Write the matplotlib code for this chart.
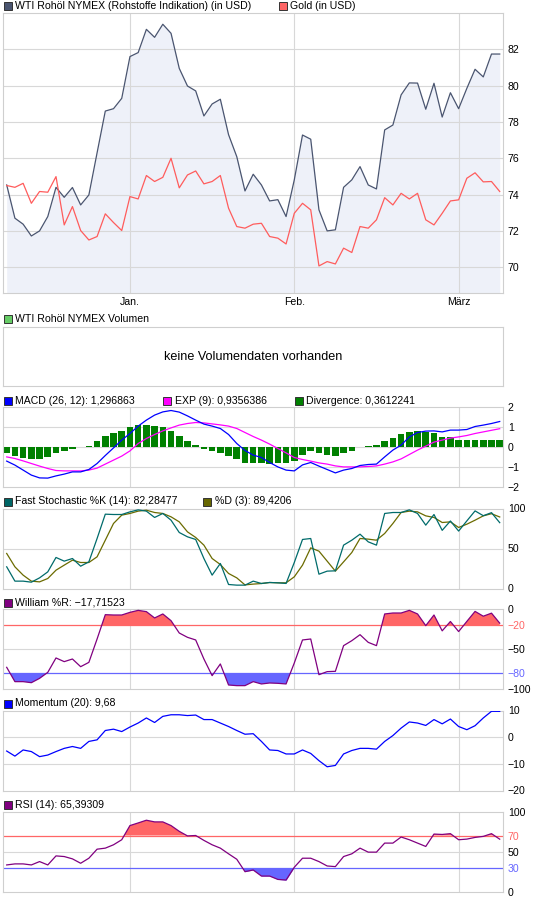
import numpy as np
import matplotlib
matplotlib.use('Agg')
import matplotlib.pyplot as plt
from matplotlib.patches import Rectangle

W, H = 545, 900
plt.rcParams['font.family'] = ['Liberation Sans', 'DejaVu Sans']
FS = 7.6

# trading days, index 0 .. 60
month_pos = [15, 35, 55]
month_labels = ['Jan.', 'Feb.', 'März']

wti = [74.53, 72.70, 72.37, 71.72, 72.00, 72.79, 74.40, 73.85, 74.39, 73.43,
       73.98, 76.30, 78.60, 78.73, 79.30, 81.60, 81.82, 83.10, 82.66, 83.38,
       82.88, 80.95, 79.98, 79.71, 78.33, 78.99, 79.25, 77.30, 76.09, 74.20,
       75.12, 74.53, 73.65, 73.72, 72.79, 74.81, 77.28, 77.05, 73.16, 72.00,
       72.06, 74.40, 74.81, 75.54, 74.53, 74.31, 77.56, 77.83, 79.49, 80.15,
       80.14, 78.70, 80.13, 78.27, 79.61, 78.73, 79.85, 80.90, 80.48, 81.74,
       81.74]
gold = [74.50, 74.40, 74.62, 73.52, 74.17, 74.13, 74.99, 72.33, 73.34, 72.02,
        71.50, 71.69, 72.94, 72.46, 72.02, 73.89, 73.76, 75.05, 74.72, 74.95,
        76.00, 74.37, 75.08, 75.30, 74.59, 74.72, 75.05, 73.25, 72.24, 72.15,
        72.37, 72.42, 71.69, 71.60, 71.28, 72.97, 73.52, 73.16, 70.07, 70.31,
        70.18, 71.05, 70.81, 72.24, 72.15, 72.61, 73.83, 73.43, 74.07, 73.76,
        74.07, 72.61, 72.33, 72.97, 73.65, 73.71, 74.90, 75.20, 74.70, 74.72,
        74.17]

macd = [-0.68, -0.88, -1.13, -1.38, -1.52, -1.53, -1.42, -1.33, -1.22, -1.22,
        -1.10, -0.80, -0.40, -0.02, 0.37, 0.70, 1.07, 1.37, 1.62, 1.78,
        1.85, 1.77, 1.58, 1.37, 1.17, 1.07, 0.95, 0.65, 0.20, -0.15,
        -0.38, -0.50, -0.75, -0.97, -1.13, -1.17, -0.87, -0.75, -0.93, -1.10,
        -1.27, -1.13, -1.05, -0.90, -0.85, -0.83, -0.47, -0.13, 0.12, 0.53,
        0.75, 0.82, 0.83, 0.78, 0.87, 0.87, 0.90, 1.05, 1.12, 1.20,
        1.30]
exp9 = [-0.47, -0.55, -0.67, -0.80, -0.93, -1.05, -1.15, -1.17, -1.17, -1.17,
        -1.13, -1.03, -0.83, -0.63, -0.43, -0.17, 0.20, 0.45, 0.65, 0.83,
        0.98, 1.12, 1.20, 1.25, 1.23, 1.18, 1.13, 1.07, 0.95, 0.75,
        0.55, 0.37, 0.17, -0.05, -0.27, -0.50, -0.60, -0.68, -0.77, -0.83,
        -0.92, -0.97, -0.97, -0.97, -0.95, -0.92, -0.83, -0.72, -0.57, -0.35,
        -0.13, 0.07, 0.27, 0.37, 0.47, 0.53, 0.60, 0.70, 0.78, 0.86,
        0.94]
divergence = [-0.26, -0.42, -0.55, -0.58, -0.57, -0.46, -0.26, -0.16, -0.08, 0.0,
              0.09, 0.33, 0.58, 0.73, 0.83, 1.00, 1.11, 1.13, 1.08, 1.01,
              0.80, 0.55, 0.33, 0.13, -0.07, -0.20, -0.26, -0.41, -0.57, -0.77,
              -0.80, -0.80, -0.85, -0.80, -0.80, -0.66, -0.37, -0.18, -0.28, -0.38,
              -0.41, -0.26, -0.16, 0.0, 0.08, 0.13, 0.33, 0.47, 0.68, 0.79,
              0.83, 0.75, 0.73, 0.53, 0.52, 0.38, 0.38, 0.38, 0.38, 0.38,
              0.36]

fast_k = [27.1, 9.2, 9.2, 7.9, 13.3, 20.8, 38.8, 34.2, 37.5, 27.9,
          33.3, 62.5, 92.9, 92.5, 92.5, 95.8, 98.3, 96.7, 88.8, 93.8,
          85.4, 70.0, 64.6, 61.3, 37.5, 16.7, 31.3, 5.0, 4.2, 4.2,
          9.2, 6.3, 7.5, 7.1, 6.3, 32.5, 61.3, 62.5, 17.9, 21.7,
          22.1, 54.2, 60.4, 67.9, 58.3, 54.2, 93.8, 95.0, 95.0, 98.3,
          93.8, 79.2, 92.5, 72.7, 84.4, 71.8, 84.5, 97.0, 91.0, 94.8,
          82.3]
slow_d = [43.8, 27.1, 16.7, 9.2, 8.3, 12.5, 22.9, 29.2, 35.4, 32.5,
          32.5, 39.6, 60.4, 81.3, 91.7, 93.8, 96.7, 97.9, 95.0, 93.8,
          89.6, 83.3, 70.8, 63.8, 54.2, 37.5, 30.0, 18.8, 13.3, 4.5,
          5.5, 6.2, 7.5, 7.1, 7.1, 14.6, 29.2, 50.8, 46.7, 34.2,
          21.7, 33.3, 45.0, 62.5, 61.7, 60.4, 68.8, 81.3, 95.0, 96.7,
          95.8, 90.8, 88.8, 82.5, 83.3, 76.3, 80.4, 85.4, 90.8, 93.5,
          89.4]
williams = [-72.9, -90.8, -90.8, -92.1, -86.7, -79.2, -61.2, -65.8, -62.5, -72.1,
            -66.7, -37.5, -7.1, -7.5, -7.5, -4.2, -1.7, -3.3, -11.2, -6.2,
            -14.6, -30.0, -35.4, -38.7, -62.5, -83.3, -68.7, -95.0, -95.8, -95.8,
            -90.8, -93.7, -92.5, -92.9, -93.7, -67.5, -38.7, -37.5, -82.1, -78.3,
            -77.9, -45.8, -39.6, -32.1, -41.7, -45.8, -6.2, -5.0, -5.0, -1.7,
            -6.2, -20.8, -7.5, -27.3, -15.6, -28.2, -15.5, -3.0, -9.0, -5.2,
            -17.7]

momentum = [-5.2, -7.1, -4.8, -5.4, -7.3, -6.7, -5.4, -4.2, -3.5, -4.2,
            -1.6, -1.0, 2.5, 3.0, 2.1, 3.8, 5.3, 7.2, 5.5, 7.8,
            8.4, 8.4, 8.1, 8.3, 6.6, 6.6, 5.3, 4.0, 2.5, 1.1,
            1.3, -1.6, -4.8, -5.0, -6.3, -6.3, -4.8, -6.1, -8.8, -11.1,
            -10.6, -6.3, -5.0, -4.2, -4.2, -4.5, -1.6, 0.6, 3.4, 5.7,
            5.3, 4.4, 6.6, 5.0, 6.8, 4.0, 2.8, 4.3, 7.2, 9.7,
            9.68]
rsi = [33.2, 34.5, 34.5, 33.2, 37.4, 33.2, 44.5, 43.7, 40.8, 35.3,
       41.6, 52.9, 54.2, 58.4, 64.7, 82.4, 85.7, 89.1, 87.0, 87.0,
       82.4, 75.2, 69.5, 70.0, 63.9, 58.4, 54.2, 47.1, 40.3, 24.8,
       26.9, 19.3, 19.3, 15.1, 14.3, 30.3, 41.6, 41.6, 37.4, 31.9,
       31.1, 43.7, 47.1, 54.2, 49.2, 49.2, 60.5, 60.5, 68.1, 64.7,
       60.5, 56.3, 71.8, 71.3, 72.3, 64.7, 65.5, 67.6, 68.9, 72.3,
       65.4]

x = np.arange(len(wti))
GRID = '#d8d8d8'
RED = '#ff6666'
BLUE = '#6666ff'

fig = plt.figure(figsize=(W / 100, H / 100), dpi=100)


def panel(top, bottom):
    ax = fig.add_axes([3 / W, 1 - bottom / H, 500 / W, (bottom - top) / H])
    ax.set_xlim(-0.45, 60.4)
    for s in ax.spines.values():
        s.set_color('#cfcfcf')
        s.set_linewidth(0.8)
    ax.yaxis.tick_right()
    ax.tick_params(length=0, pad=3.5, labelsize=FS)
    ax.set_xticks([])
    return ax


def grid(ax, ys):
    for y in ys:
        ax.axhline(y, color=GRID, lw=0.8, zorder=1)
    for t in month_pos:
        ax.axvline(t, color=GRID, lw=0.8, zorder=1)


def legend(px, py, color, label):
    fig.add_artist(Rectangle((px / W, 1 - (py + 4) / H), 8 / W, 8 / H,
                             transform=fig.transFigure, facecolor=color,
                             edgecolor='#333333', lw=0.7))
    fig.text((px + 11.5) / W, 1 - py / H, label, va='center', ha='left', fontsize=FS)


def yticks(ax, vals, labels, colors=None):
    ax.set_yticks(vals)
    ax.set_yticklabels(labels)
    if colors:
        for lab, c in zip(ax.get_yticklabels(), colors):
            lab.set_color(c)


# price panel
ax = panel(13, 293)
ax.set_ylim(68.58, 84.0)
grid(ax, [70, 72, 74, 76, 78, 80, 82])
ax.fill_between(x, wti, 68.58, color='#eef1f9', lw=0, zorder=0.5)
ax.plot(x, wti, color='#4a5570', lw=0.9, zorder=3)
ax.plot(x, gold, color='#ff5c5c', lw=0.9, zorder=3)
yticks(ax, [70, 72, 74, 76, 78, 80, 82], ['70', '72', '74', '76', '78', '80', '82'])
ax.set_xticks(month_pos)
ax.set_xticklabels(month_labels)
ax.tick_params(axis='x', length=0, pad=3, labelsize=FS)
legend(3.5, 6, '#4a5570', 'WTI Rohöl NYMEX (Rohstoffe Indikation) (in USD)')
legend(279, 6, RED, 'Gold (in USD)')

# volume panel
ax = panel(327, 386)
ax.set_yticks([])
ax.text(0.5, 0.5, 'keine Volumendaten vorhanden', transform=ax.transAxes,
        ha='center', va='center', fontsize=9.1)
legend(3.5, 319, '#66cc66', 'WTI Rohöl NYMEX Volumen')

# MACD
ax = panel(407.5, 487.5)
ax.set_ylim(-2, 2)
grid(ax, [-1, 0, 1])
ax.bar(x, divergence, width=0.8, color='#008000', zorder=2)
ax.plot(x, exp9, color='#ff00ff', lw=0.9, zorder=3)
ax.plot(x, macd, color='#0000ff', lw=0.9, zorder=3)
yticks(ax, [2, 1, 0, -1, -2], ['2', '1', '0', '−1', '−2'])
legend(3.5, 400.5, '#0000ff', 'MACD (26, 12): 1,296863')
legend(163.4, 400.5, '#ff00ff', 'EXP (9): 0,9356386')
legend(294.7, 400.5, '#008000', 'Divergence: 0,3612241')

# Fast stochastic
ax = panel(508.5, 588.5)
ax.set_ylim(0, 100)
grid(ax, [50])
ax.plot(x, slow_d, color='#6b6b00', lw=0.9, zorder=3)
ax.plot(x, fast_k, color='#006b6b', lw=0.9, zorder=3)
yticks(ax, [0, 50, 100], ['0', '50', '100'])
legend(3.5, 501.5, '#006666', 'Fast Stochastic %K (14): 82,28477')
legend(203.3, 501.5, '#666600', '%D (3): 89,4206')

# Williams %R
w = np.array(williams)
ax = panel(609, 689)
ax.set_ylim(-100, 0)
grid(ax, [-50])
ax.axhline(-20, color=RED, lw=0.9, zorder=2)
ax.axhline(-80, color=BLUE, lw=0.9, zorder=2)
ax.fill_between(x, w, -20, where=w >= -20, interpolate=True, color=RED, lw=0, zorder=1.5)
ax.fill_between(x, w, -80, where=w <= -80, interpolate=True, color=BLUE, lw=0, zorder=1.5)
ax.plot(x, w, color='#800080', lw=0.9, zorder=3)
yticks(ax, [0, -20, -50, -80, -100], ['0', '−20', '−50', '−80', '−100'],
       ['black', RED, 'black', BLUE, 'black'])
legend(3.5, 602.5, '#800080', 'William %R: −17,71523')

# Momentum
ax = panel(710.5, 790.5)
ax.set_ylim(-20, 10)
grid(ax, [0, -10])
ax.plot(x, momentum, color='#0000ff', lw=0.9, zorder=3)
yticks(ax, [10, 0, -10, -20], ['10', '0', '−10', '−20'])
legend(3.5, 703.5, '#0000ff', 'Momentum (20): 9,68')

# RSI
r = np.array(rsi)
ax = panel(811.5, 891.5)
ax.set_ylim(0, 100)
grid(ax, [50])
ax.axhline(70, color=RED, lw=0.9, zorder=2)
ax.axhline(30, color=BLUE, lw=0.9, zorder=2)
ax.fill_between(x, r, 70, where=r >= 70, interpolate=True, color=RED, lw=0, zorder=1.5)
ax.fill_between(x, r, 30, where=r <= 30, interpolate=True, color=BLUE, lw=0, zorder=1.5)
ax.plot(x, r, color='#800080', lw=0.9, zorder=3)
yticks(ax, [100, 70, 50, 30, 0], ['100', '70', '50', '30', '0'],
       ['black', RED, 'black', BLUE, 'black'])
legend(3.5, 804.5, '#800080', 'RSI (14): 65,39309')

fig.savefig('out.png', dpi=100)
